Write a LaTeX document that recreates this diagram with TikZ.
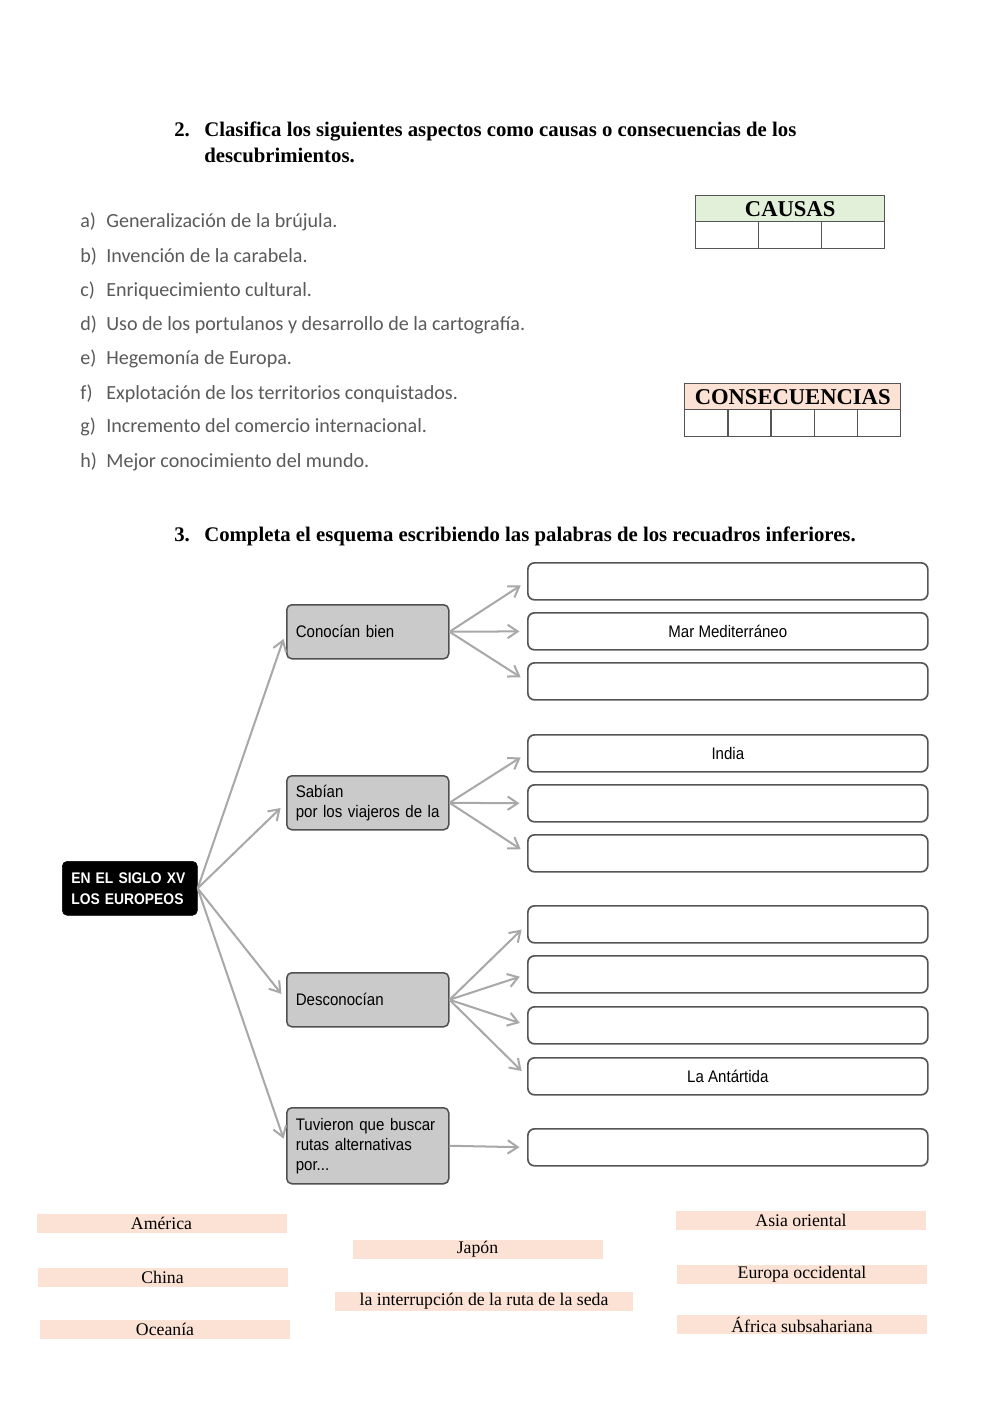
\documentclass[tikz,border=0pt]{standalone}
\usepackage{fontspec}
\setmainfont{Liberation Serif}
\newfontfamily\lstfont{Carlito}
\newfontfamily\dgfont[FakeStretch=0.9]{Liberation Sans}
\usetikzlibrary{arrows.meta}
\newdimen\px \px=0.21mm
\definecolor{listgray}{HTML}{5A5A5A}
\definecolor{nodegray}{HTML}{CACACA}
\definecolor{nodeedge}{HTML}{505050}
\definecolor{boxedge}{HTML}{555555}
\definecolor{arrgray}{HTML}{A8A8A8}
\definecolor{causagreen}{HTML}{E2EFD9}
\definecolor{peach}{HTML}{FBE2D5}
\definecolor{tabedge}{HTML}{555555}
\begin{document}
\begin{tikzpicture}[x=0.21mm,y=-0.21mm,
  hdr/.style={anchor=base west, inner sep=0, font=\bfseries\fontsize{12.4}{14}\selectfont},
  itm/.style={anchor=base west, inner sep=0, text=listgray, font=\lstfont\fontsize{12}{14}\selectfont},
  tabhead/.style={draw=tabedge, line width=0.8pt, anchor=north west, inner sep=0, font=\bfseries\fontsize{13.5}{15}\selectfont, minimum height=26\px},
  tabcell/.style={draw=tabedge, line width=0.8pt, anchor=north west, inner sep=0, minimum height=27\px},
  rootbox/.style={fill=black, draw=black, rounded corners=3pt, anchor=north west, inner xsep=9\px, inner ysep=0, minimum width=135\px, minimum height=54\px, text width=117\px, align=left, text=white, font=\dgfont\bfseries\fontsize{9.2}{12.5}\selectfont},
  graybox/.style={fill=nodegray, draw=nodeedge, line width=0.9pt, rounded corners=3pt, anchor=north west, inner xsep=9\px, inner ysep=0, minimum width=162\px, text width=144\px, align=left, font=\dgfont\fontsize{10}{12}\selectfont},
  ansbox/.style={draw=boxedge, line width=1pt, rounded corners=4pt, anchor=north west, inner sep=0, minimum width=400\px, minimum height=37\px, font=\dgfont\fontsize{10}{12}\selectfont},
  conn/.style={draw=arrgray, line width=1.2pt, -{Straight Barb[length=6pt,width=8pt]}, shorten >=4.5pt},
  word/.style={fill=peach, inner sep=0, minimum width=250\px, minimum height=19\px, font=\fontsize{10.6}{12}\selectfont},
]
\useasboundingbox[fill=white] (0,0) rectangle (1000,1413);

% ---------- Exercise 2 ----------
\node[hdr] (h2n) at (174,136) {2.};
\node[hdr] (h2a) at (204,136) {Clasifica los siguientes aspectos como causas o consecuencias de los};
\node[hdr] (h2b) at (204,162) {descubrimientos.};

\node[itm] (la) at (80,227) {a)};  \node[itm] (ta) at (106,227) {Generalización de la brújula.};
\node[itm] (lb) at (80,262) {b)};  \node[itm] (tb) at (106,262) {Invención de la carabela.};
\node[itm] (lc) at (80,296) {c)};  \node[itm] (tc) at (106,296) {Enriquecimiento cultural.};
\node[itm] (ld) at (80,330) {d)};  \node[itm] (td) at (106,330) {Uso de los portulanos y desarrollo de la cartografía.};
\node[itm] (le) at (80,364) {e)};  \node[itm] (te) at (106,364) {Hegemonía de Europa.};
\node[itm] (lf) at (80,399) {f)};  \node[itm] (tf) at (106,399) {Explotación de los territorios conquistados.};
\node[itm] (lg) at (80,432) {g)};  \node[itm] (tg) at (106,432) {Incremento del comercio internacional.};
\node[itm] (lh) at (80,467) {h)};  \node[itm] (th) at (106,467) {Mejor conocimiento del mundo.};

% CAUSAS table
\node[tabhead, fill=causagreen, minimum width=189\px] (causas) at (695,195) {CAUSAS};
\node[tabcell, minimum width=63\px] (c1) at (695,221) {};
\node[tabcell, minimum width=63\px] (c2) at (758,221) {};
\node[tabcell, minimum width=63\px] (c3) at (821,221) {};

% CONSECUENCIAS table
\node[tabhead, fill=peach, minimum width=216\px] (cons) at (684,383) {CONSECUENCIAS};
\node[tabcell, minimum width=43.2\px] (k1) at (684,409) {};
\node[tabcell, minimum width=43.2\px] (k2) at (727.2,409) {};
\node[tabcell, minimum width=43.2\px] (k3) at (770.4,409) {};
\node[tabcell, minimum width=43.2\px] (k4) at (813.6,409) {};
\node[tabcell, minimum width=43.2\px] (k5) at (856.8,409) {};

% ---------- Exercise 3 ----------
\node[hdr] (h3n) at (174,541) {3.};
\node[hdr] (h3a) at (204,541) {Completa el esquema escribiendo las palabras de los recuadros inferiores.};

\node[rootbox] (root) at (62,861) {EN EL SIGLO XV\\LOS EUROPEOS};

\node[graybox, minimum height=54\px] (g1) at (286,604) {Conocían bien};
\node[graybox, minimum height=54\px] (g2) at (286,775) {Sabían\\\mbox{por los viajeros de la}};
\node[graybox, minimum height=54\px] (g3) at (286,972) {Desconocían};
\node[graybox, minimum height=76\px] (g4) at (286,1107) {Tuvieron que buscar\\rutas alternativas\\por...};

\node[ansbox] (b1) at (527,562) {};
\node[ansbox] (b2) at (527,612) {Mar Mediterráneo};
\node[ansbox] (b3) at (527,662) {};
\node[ansbox] (b4) at (527,734) {India};
\node[ansbox] (b5) at (527,784) {};
\node[ansbox] (b6) at (527,834) {};
\node[ansbox] (b7) at (527,905) {};
\node[ansbox] (b8) at (527,955) {};
\node[ansbox] (b9) at (527,1006) {};
\node[ansbox] (b10) at (527,1057) {La Antártida};
\node[ansbox] (b11) at (527,1128) {};

\foreach \g in {g1,g2,g3,g4} \draw[conn] (root.east) -- (\g.west);
\foreach \b in {b1,b2,b3} \draw[conn] (g1.east) -- (\b.west);
\foreach \b in {b4,b5,b6} \draw[conn] (g2.east) -- (\b.west);
\foreach \b in {b7,b8,b9,b10} \draw[conn] (g3.east) -- (\b.west);
\draw[conn] (g4.east) -- (b11.west);

% word bank
\node[word] (w1) at (161.5,1223) {América};
\node[word] (w2) at (477.5,1249.5) {Japón};
\node[word] (w3) at (162.5,1277.5) {China};
\node[word, minimum width=298\px] (w4) at (484,1301) {la interrupción de la ruta de la seda};
\node[word] (w5) at (165,1329) {Oceanía};
\node[word] (w6) at (801,1220.5) {Asia oriental};
\node[word] (w7) at (802,1274.5) {Europa occidental};
\node[word] (w8) at (802,1324.5) {África subsahariana};
\end{tikzpicture}
\end{document}
